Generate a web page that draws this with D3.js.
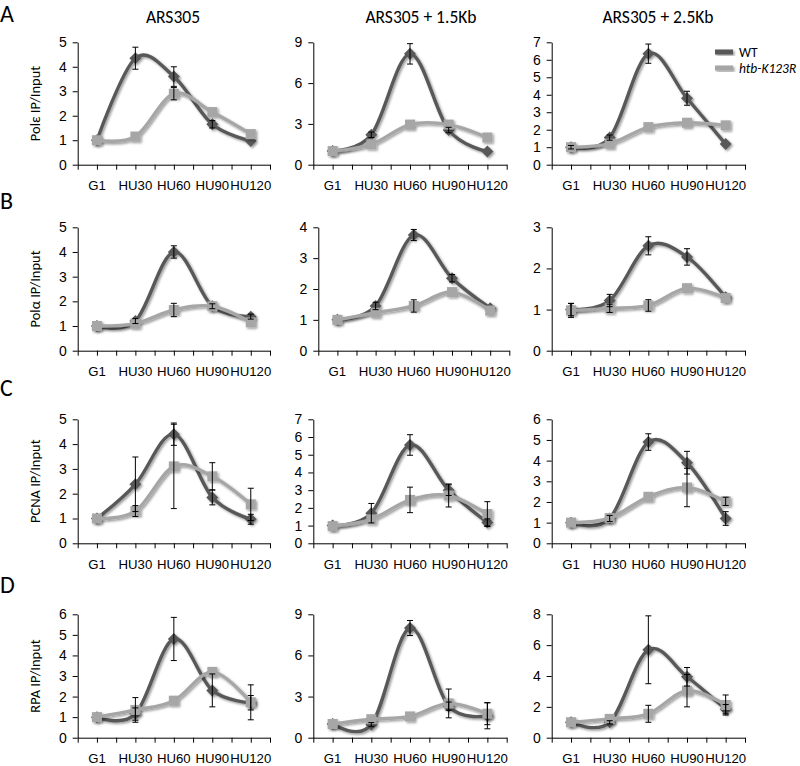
<!DOCTYPE html>
<html>
<head>
<meta charset="utf-8">
<script src="https://cdn.jsdelivr.net/npm/d3@7"></script>
<style>
  html, body { margin: 0; padding: 0; background: #fff; }
  svg { display: block; font-family: Carlito, Lato, "Open Sans", sans-serif; }
</style>
</head>
<body>
<svg id="chart" width="800" height="766"></svg>
<script>
// ---------- data ----------
const categories = ["G1", "HU30", "HU60", "HU90", "HU120"];
const rowLetters = ["A", "B", "C", "D"];
const yTitles = ["Polε IP/Input", "Polα IP/Input", "PCNA IP/Input", "RPA IP/Input"];
const colTitles = ["ARS305", "ARS305 + 1.5Kb", "ARS305 + 2.5Kb"];
const legendLabels = ["WT", "htb-K123R"];

// y-axis max and tick step, per row (3 columns each)
const yMaxes = [[5, 9, 7], [5, 4, 3], [5, 7, 6], [6, 9, 8]];
const ySteps = [[1, 3, 1], [1, 1, 1], [1, 1, 1], [1, 3, 2]];

// WT values per row, 3 panels each
const wtA = [[1.0, 4.35, 3.6, 1.65, 0.97], [1.0, 2.2, 8.15, 2.55, 0.97], [1.0, 1.55, 6.35, 3.8, 1.18]];
const wtB = [[1.0, 1.2, 4.0, 1.8, 1.38], [1.0, 1.45, 3.75, 2.35, 1.38], [1.0, 1.22, 2.55, 2.28, 1.3]];
const wtC = [[1.0, 2.38, 4.4, 1.85, 0.97], [1.0, 1.7, 5.55, 3.0, 1.18], [1.0, 1.2, 4.9, 3.9, 1.2]];
const wtD = [[1.0, 1.15, 4.8, 2.3, 1.7], [1.0, 0.95, 8.0, 2.3, 1.6], [1.0, 1.0, 5.7, 3.95, 1.85]];

// WT error (0 = not visible)
const wtErrA = [[0, 0.45, 0.4, 0.15, 0], [0, 0.2, 0.75, 0.2, 0], [0.1, 0.15, 0.55, 0.4, 0]];
const wtErrB = [[0, 0.1, 0.25, 0.1, 0.1], [0, 0.12, 0.18, 0.12, 0], [0.15, 0.15, 0.22, 0.2, 0]];
const wtErrC = [[0, 1.1, 0.45, 0.3, 0.2], [0, 0.55, 0.58, 0.3, 0.2], [0, 0.15, 0.4, 0.55, 0.33]];
const wtErrD = [[0, 0.3, 1.05, 0.8, 0.35], [0, 0.15, 0.55, 0.3, 0.95], [0, 0.1, 2.2, 0.6, 0.3]];

// htb-K123R values
const mutA = [[1.0, 1.15, 2.9, 2.15, 1.25], [1.0, 1.5, 2.95, 2.95, 2.0], [1.0, 1.2, 2.15, 2.4, 2.25]];
const mutB = [[1.0, 1.1, 1.65, 1.8, 1.15], [1.0, 1.23, 1.45, 1.9, 1.3], [0.98, 1.03, 1.1, 1.52, 1.28]];
const mutC = [[1.0, 1.3, 3.1, 2.7, 1.57], [0.97, 1.35, 2.45, 2.7, 1.65], [1.0, 1.22, 2.25, 2.7, 2.03]];
const mutD = [[1.0, 1.35, 1.8, 3.2, 1.72], [1.0, 1.35, 1.55, 2.5, 1.75], [1.0, 1.22, 1.55, 3.05, 2.12]];

// htb-K123R error (0 = not visible)
const mutErrA = [[0, 0, 0.25, 0, 0], [0, 0, 0, 0, 0], [0, 0, 0, 0, 0]];
const mutErrB = [[0, 0, 0.27, 0, 0], [0, 0, 0.2, 0, 0], [0.17, 0.1, 0.14, 0, 0]];
const mutErrC = [[0, 0.22, 1.7, 0.55, 0.65], [0, 0, 0.72, 0.65, 0.7], [0, 0, 0, 0.93, 0.2]];
const mutErrD = [[0, 0.6, 0, 0, 0.85], [0, 0, 0, 1.05, 0.8], [0, 0, 0.55, 1.05, 0.65]];

const wtRows = [wtA, wtB, wtC, wtD];
const wtErrRows = [wtErrA, wtErrB, wtErrC, wtErrD];
const mutRows = [mutA, mutB, mutC, mutD];
const mutErrRows = [mutErrA, mutErrB, mutErrC, mutErrD];

// ---------- layout ----------
const rowTop = [42.3, 227.3, 419.3, 614.3];
const rowBottom = [164.7, 350.7, 543.3, 737.7];
const colLeft = [[77.7, 313.3, 551.7], [77.7, 318.3, 551.7], [77.7, 313.3, 551.7], [77.7, 313.3, 551.7]];
const colRight = [[270, 506.7, 745], [270, 509.3, 745], [270, 506.7, 745], [270, 506.7, 745]];
const letterBaseline = [22, 209, 396, 593];

const WT_COLOR = "#595959";
const MUT_COLOR = "#a6a6a6";

const svg = d3.select("#chart");

const defs = svg.append("defs");
const f = defs.append("filter").attr("id", "shadow").attr("x", "-20%").attr("y", "-20%").attr("width", "140%").attr("height", "140%");
f.append("feDropShadow").attr("dx", 1.5).attr("dy", 1.5).attr("stdDeviation", 1.3)
  .attr("flood-color", "#000").attr("flood-opacity", 0.4);

// column titles
const titleX = [173, 421, 658];
colTitles.forEach((t, i) => {
  svg.append("text").attr("x", titleX[i]).attr("y", 23).attr("text-anchor", "middle")
    .attr("font-size", 17.5).attr("fill", "#000").text(t);
});

// row letters
rowLetters.forEach((l, r) => {
  svg.append("text").attr("x", 0).attr("y", letterBaseline[r]).attr("font-size", 24)
    .attr("fill", "#000").text(l);
});

const line = d3.line().curve(d3.curveCardinal.tension(0));

for (let r = 0; r < 4; r++) {
  // y title
  const yc = (rowTop[r] + rowBottom[r]) / 2;
  svg.append("text").attr("transform", `translate(40,${yc}) rotate(-90)`)
    .attr("text-anchor", "middle").attr("font-size", 14.5).attr("fill", "#000").text(yTitles[r]);

  for (let c = 0; c < 3; c++) {
    const x0 = colLeft[r][c], x1 = colRight[r][c];
    const yMax = yMaxes[r][c], step = ySteps[r][c];
    const y = d3.scaleLinear().domain([0, yMax]).range([rowBottom[r], rowTop[r]]);
    const band = d3.scaleBand().domain(categories).range([x0, x1]).padding(0);
    const lin = d3.scaleLinear().domain([0, categories.length]).range([x0, x1]);
    const cx = k => band(k) + band.bandwidth() / 2;

    const g = svg.append("g");

    // y axis
    const yAxis = d3.axisLeft(y).tickValues(d3.range(0, yMax + step / 2, step))
      .tickSize(5).tickSizeOuter(0).tickPadding(6).tickFormat(d3.format("d"));
    const ya = g.append("g").attr("transform", `translate(${x0},0)`).call(yAxis);
    ya.selectAll("text").attr("font-size", 14).attr("fill", "#000").style("font-family", "inherit");
    ya.select(".domain").attr("stroke", "#000");
    ya.selectAll(".tick line").attr("stroke", "#000");

    // x axis ticks (at boundaries and at category centres)
    const xTicks = d3.range(0, categories.length + 0.01, 0.5);
    const xa = g.append("g").attr("transform", `translate(0,${rowBottom[r]})`)
      .call(d3.axisBottom(lin).tickValues(xTicks).tickSize(5).tickSizeOuter(0).tickFormat(""));
    xa.select(".domain").attr("stroke", "#000");
    xa.selectAll(".tick line").attr("stroke", "#000");

    // category labels
    const xl = g.append("g").attr("transform", `translate(0,${rowBottom[r]})`)
      .call(d3.axisBottom(band).tickSize(0).tickPadding(16));
    xl.select(".domain").remove();
    xl.selectAll("text").attr("font-size", 13.2).attr("fill", "#000").style("font-family", "inherit");

    const series = [
      { vals: wtRows[r][c], errs: wtErrRows[r][c], color: WT_COLOR, shape: "diamond" },
      { vals: mutRows[r][c], errs: mutErrRows[r][c], color: MUT_COLOR, shape: "square" }
    ];

    series.forEach(s => {
      const pts = categories.map((k, i) => [cx(k), y(s.vals[i])]);
      const sg = g.append("g").attr("filter", "url(#shadow)");
      sg.append("path").attr("d", line(pts)).attr("fill", "none")
        .attr("stroke", s.color).attr("stroke-width", 3.4);
      const sym = d3.symbol().type(d3.symbolSquare).size(s.shape === "diamond" ? 72 : 100);
      sg.selectAll("path.m").data(pts).join("path").attr("class", "m")
        .attr("d", sym)
        .attr("transform", d => `translate(${d[0]},${d[1]})` + (s.shape === "diamond" ? " rotate(45)" : ""))
        .attr("fill", s.color);
    });

    // error bars on top
    series.forEach(s => {
      const eg = g.append("g").attr("stroke", "#000").attr("stroke-width", 1);
      categories.forEach((k, i) => {
        if (!(s.errs[i] > 0)) return;
        const xx = cx(k);
        const top = y(s.vals[i] + s.errs[i]), bot = y(Math.max(0, s.vals[i] - s.errs[i]));
        eg.append("line").attr("x1", xx).attr("x2", xx).attr("y1", top).attr("y2", bot);
        eg.append("line").attr("x1", xx - 3).attr("x2", xx + 3).attr("y1", top).attr("y2", top);
        eg.append("line").attr("x1", xx - 3).attr("x2", xx + 3).attr("y1", bot).attr("y2", bot);
      });
    });
  }
}

// legend
const legendColors = [WT_COLOR, MUT_COLOR];
legendLabels.forEach((l, i) => {
  const ly = 52 + i * 16;
  svg.append("rect").attr("x", 715).attr("y", ly - 2.5).attr("width", 18).attr("height", 5)
    .attr("fill", legendColors[i]).attr("filter", "url(#shadow)");
  svg.append("text").attr("x", 739).attr("y", ly + 4.5).attr("font-size", 13.5)
    .attr("font-style", i === 1 ? "italic" : "normal").attr("fill", "#000").text(l);
});
</script>
</body>
</html>
